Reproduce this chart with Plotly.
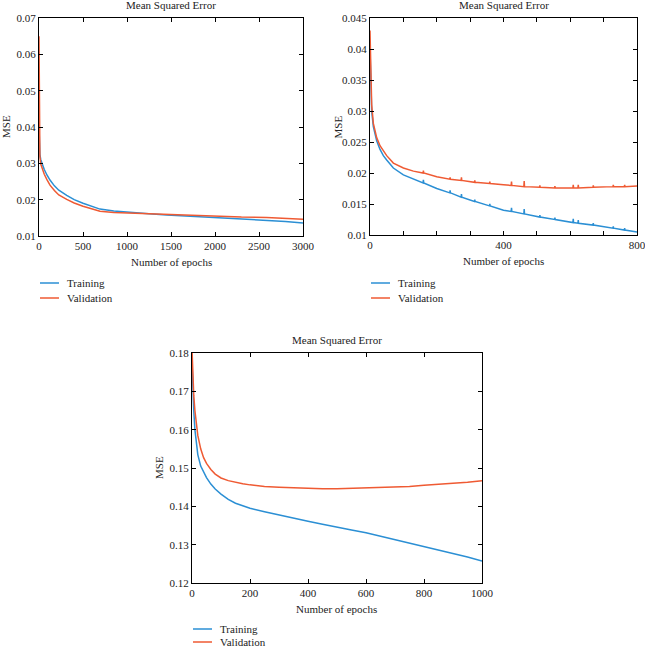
import plotly.graph_objects as go

# ---------------- data ----------------
# Panel 1 (top-left)
tl_epochs = [0, 3, 10, 20, 35, 60, 90, 125, 175, 225, 315, 400, 500, 600, 693, 850,
             1071, 1250, 1451, 1700, 1980, 2300, 2587, 2800, 3000]
tl_train = [0.040, 0.035, 0.0325, 0.0310, 0.0298, 0.0283, 0.0268, 0.0254, 0.0238, 0.0226,
            0.0212, 0.0200, 0.0190, 0.0182, 0.0174, 0.0169, 0.0164, 0.0161, 0.0158, 0.0155,
            0.0151, 0.0147, 0.0144, 0.0140, 0.0136]
tl_valid = [0.065, 0.040, 0.0320, 0.0298, 0.0285, 0.0270, 0.0255, 0.0240, 0.0225, 0.0213,
            0.0201, 0.0191, 0.0182, 0.0175, 0.0168, 0.0165, 0.0163, 0.0161, 0.0159, 0.0157,
            0.0154, 0.0152, 0.0151, 0.0148, 0.0146]

# Panel 2 (top-right)
tr_epochs = [0, 2, 5, 10, 15, 20, 30, 40, 50, 70, 100, 130,
             159, 160, 161, 200, 239, 240, 241, 273, 274, 275, 313, 314, 315,
             358, 359, 360, 400, 423, 424, 425, 461, 462, 463, 508, 509, 510,
             553, 554, 555, 608, 609, 610, 623, 624, 625, 668, 669, 670,
             728, 729, 730, 762, 763, 764, 800]
tr_train = [0.0400, 0.0340, 0.0300, 0.0275, 0.0262, 0.0252, 0.0238, 0.0228, 0.0221, 0.0208, 0.0197, 0.0190,
            0.0184, 0.0189, 0.0184, 0.0175, 0.0168, 0.0172, 0.0168, 0.0161, 0.0166, 0.0161, 0.0154, 0.0157, 0.0154,
            0.0147, 0.0150, 0.0147, 0.0140, 0.0138, 0.0144, 0.0138, 0.0134, 0.0142, 0.0134, 0.0129, 0.0132, 0.0129,
            0.0125, 0.0128, 0.0125, 0.0120, 0.0126, 0.0120, 0.0119, 0.0124, 0.0119, 0.0116, 0.0119, 0.0116,
            0.0111, 0.0114, 0.0111, 0.0108, 0.0111, 0.0108, 0.0105]
tr_valid = [0.0430, 0.0360, 0.0310, 0.0280, 0.0266, 0.0257, 0.0244, 0.0235, 0.0228, 0.0216, 0.0208, 0.0203,
            0.0200, 0.0204, 0.0200, 0.0194, 0.0190, 0.0193, 0.0190, 0.0188, 0.0193, 0.0188, 0.0185, 0.0188, 0.0185,
            0.0183, 0.0186, 0.0183, 0.0181, 0.0180, 0.0186, 0.0180, 0.0178, 0.0187, 0.0178, 0.0177, 0.0180, 0.0177,
            0.0176, 0.0179, 0.0176, 0.0176, 0.0181, 0.0176, 0.0176, 0.0181, 0.0176, 0.0177, 0.0180, 0.0177,
            0.0178, 0.0181, 0.0178, 0.0178, 0.0181, 0.0178, 0.0179]

# Panel 3 (bottom)
b_epochs = [0, 3, 6, 10, 15, 20, 30, 40, 50, 65, 80, 100, 125, 150, 175, 200, 250, 300, 350, 400,
            450, 500, 550, 600, 650, 700, 750, 800, 850, 900, 950, 1000]
b_train = [0.178, 0.170, 0.165, 0.160, 0.156, 0.1535, 0.1505, 0.1488, 0.1475, 0.1458, 0.1445,
           0.1432, 0.1418, 0.1408, 0.1401, 0.1395, 0.1386, 0.1377, 0.1369, 0.1361, 0.1353, 0.1345,
           0.1338, 0.1331, 0.1322, 0.1313, 0.1304, 0.1295, 0.1287, 0.1278, 0.1268, 0.1257]
b_valid = [0.181, 0.174, 0.169, 0.165, 0.161, 0.1585, 0.1550, 0.1527, 0.1512, 0.1496, 0.1484,
           0.1474, 0.1467, 0.1462, 0.1459, 0.1456, 0.1452, 0.1450, 0.1448, 0.1447, 0.1446, 0.1446,
           0.1447, 0.1448, 0.1449, 0.1450, 0.1452, 0.1455, 0.1457, 0.1460, 0.1463, 0.1467]

series_names = ["Training", "Validation"]
panel_title = "Mean Squared Error"
x_title = "Number of epochs"
y_title = "MSE"

tl_xticks = [0, 500, 1000, 1500, 2000, 2500, 3000]
tl_yticks = [0.01, 0.02, 0.03, 0.04, 0.05, 0.06, 0.07]
tr_xticks = [0, 100, 200, 300, 400, 500, 600, 700, 800]
tr_xlabels = ["0", "", "", "", "400", "", "", "", "800"]
tr_yticks = [0.01, 0.015, 0.02, 0.025, 0.03, 0.035, 0.04, 0.045]
b_xticks = [0, 200, 400, 600, 800, 1000]
b_yticks = [0.12, 0.13, 0.14, 0.15, 0.16, 0.17, 0.18]

# ---------------- style ----------------
W, H = 645, 648
BLUE = "#2b8fd4"
RED = "#ef5a33"
COLORS = [BLUE, RED]
FONT = "Liberation Serif"
TXT = "#222222"

def px_x(p):
    return p / W

def px_y(p):
    return 1 - p / H

# panel boxes in pixels: (left, right, top, bottom)
boxes = {
    1: (39, 303, 18, 236),
    2: (370, 637, 18, 235),
    3: (192, 482, 353, 583),
}
# legend anchor per panel: (line start x, first row y, row gap)
legend_pos = {
    1: (40, 283, 15),
    2: (371, 283, 15),
    3: (193, 629, 13),
}

fig = go.Figure()

panels = [
    (1, tl_epochs, tl_train, tl_valid),
    (2, tr_epochs, tr_train, tr_valid),
    (3, b_epochs, b_train, b_valid),
]
for idx, xs, ytr, yva in panels:
    xa = "x" if idx == 1 else f"x{idx}"
    ya = "y" if idx == 1 else f"y{idx}"
    for name, ys, col in zip(series_names, [ytr, yva], COLORS):
        fig.add_trace(go.Scatter(x=xs, y=ys, mode="lines", name=name,
                                 line=dict(color=col, width=1.5), xaxis=xa, yaxis=ya,
                                 showlegend=False))

axis_common = dict(showline=True, linecolor="black", linewidth=1.2, mirror="ticks",
                   ticks="inside", ticklen=4, tickwidth=1, tickcolor="black",
                   showgrid=False, zeroline=False, automargin=False,
                   ticklabeloverflow="allow",
                   tickfont=dict(family=FONT, size=11, color=TXT))

layout_axes = {}
ranges = {
    1: ((0, 3000), (0.01, 0.07), dict(tickvals=tl_xticks), dict(tickvals=tl_yticks)),
    2: ((0, 800), (0.01, 0.045), dict(tickvals=tr_xticks, ticktext=tr_xlabels), dict(tickvals=tr_yticks)),
    3: ((0, 1000), (0.12, 0.18), dict(tickvals=b_xticks), dict(tickvals=b_yticks)),
}
for idx, (l, r, t, b) in boxes.items():
    xr, yr, xt, yt = ranges[idx]
    xname = "xaxis" if idx == 1 else f"xaxis{idx}"
    yname = "yaxis" if idx == 1 else f"yaxis{idx}"
    yid = "y" if idx == 1 else f"y{idx}"
    xid = "x" if idx == 1 else f"x{idx}"
    layout_axes[xname] = dict(domain=[px_x(l), px_x(r)], range=list(xr), anchor=yid,
                              ticklabelstandoff=0, **xt, **axis_common)
    layout_axes[yname] = dict(domain=[px_y(b), px_y(t)], range=list(yr), anchor=xid, **yt, **axis_common)

fig.update_layout(**layout_axes)

annotations = []
shapes = []
for idx, (l, r, t, b) in boxes.items():
    cx = (l + r) / 2
    annotations.append(dict(text=panel_title, x=px_x(cx), y=px_y(t - 13), xref="paper", yref="paper",
                            showarrow=False, font=dict(family=FONT, size=11, color=TXT),
                            xanchor="center", yanchor="middle"))
    annotations.append(dict(text=x_title, x=px_x(cx), y=px_y(b + 26), xref="paper", yref="paper",
                            showarrow=False, font=dict(family=FONT, size=11, color=TXT),
                            xanchor="center", yanchor="middle"))
    annotations.append(dict(text=y_title, x=px_x(l - 33), y=px_y((t + b) / 2), xref="paper", yref="paper",
                            showarrow=False, textangle=-90, font=dict(family=FONT, size=11, color=TXT),
                            xanchor="center", yanchor="middle"))
    # legend (drawn as line samples + labels)
    lx, ly, gap = legend_pos[idx]
    for k, (name, col) in enumerate(zip(series_names, COLORS)):
        yy = ly + k * gap
        shapes.append(dict(type="line", xref="paper", yref="paper",
                           x0=px_x(lx), x1=px_x(lx + 19), y0=px_y(yy), y1=px_y(yy),
                           line=dict(color=col, width=1.5)))
        annotations.append(dict(text=name, x=px_x(lx + 25), y=px_y(yy), xref="paper", yref="paper",
                                showarrow=False, font=dict(family=FONT, size=11, color=TXT),
                                xanchor="left", yanchor="middle"))

fig.update_layout(
    width=W, height=H,
    margin=dict(l=0, r=0, t=0, b=0),
    paper_bgcolor="white", plot_bgcolor="white",
    showlegend=False,
    annotations=annotations,
    shapes=shapes,
)

fig.write_html("out.html",
               config={"displayModeBar": False},
               post_script="document.body.style.margin='0';document.body.style.overflow='hidden';")
